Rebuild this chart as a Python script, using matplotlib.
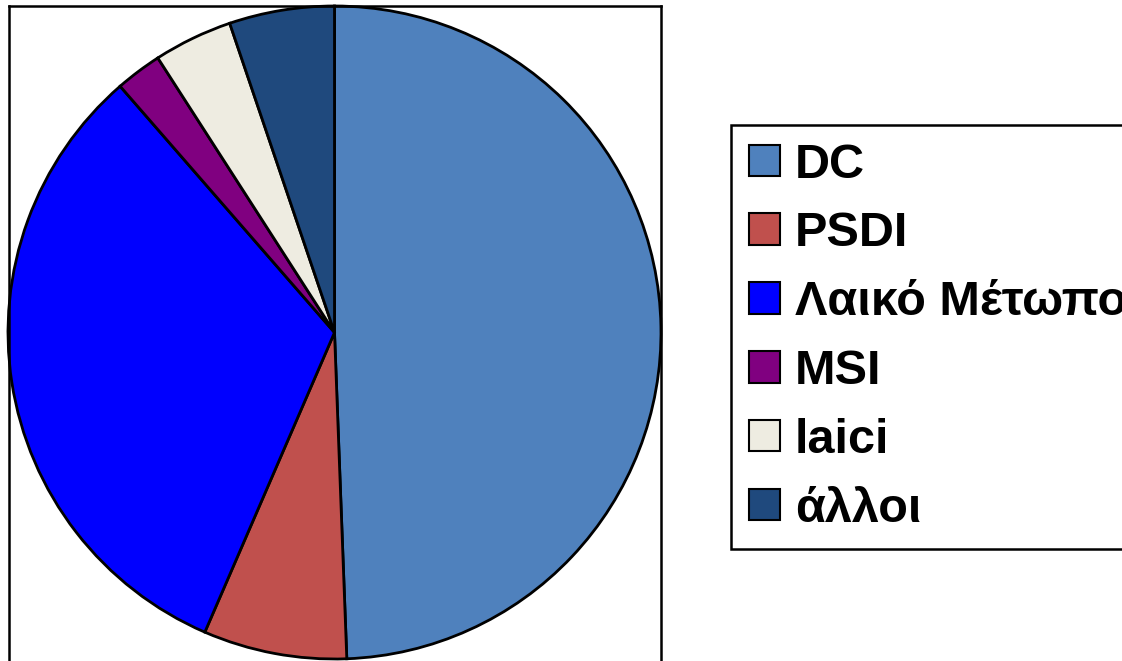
import matplotlib

matplotlib.use("Agg")
import matplotlib.pyplot as plt
from matplotlib.patches import Patch

# shares, clockwise from 12 o'clock
labels = ["DC", "PSDI", "Λαικό Μέτωπο", "MSI", "laici", "άλλοι"]
shares = [49.4, 7.1, 32.1, 2.3, 3.9, 5.2]
colors = ["#4F81BD", "#C0504D", "#0000FF", "#800080", "#EEECE1", "#1F497D"]

W, H = 1122, 661
plt.rcParams["font.family"] = ["Liberation Sans", "DejaVu Sans"]
plt.rcParams["font.weight"] = "bold"

fig = plt.figure(figsize=(W / 100, H / 100), dpi=100)
fig.patch.set_facecolor("white")

# plot area, in pixel units so the pie stays round
x0, x1, y0, y1 = 9, 661, -60, 655
ax = fig.add_axes([x0 / W, y0 / H, (x1 - x0) / W, (y1 - y0) / H])
ax.pie(
    shares,
    colors=colors,
    startangle=90,
    counterclock=False,
    center=(334.5, H - 332.5),
    radius=326.5,
    frame=True,
    wedgeprops=dict(edgecolor="black", linewidth=2.0),
)
ax.set_xlim(x0, x1)
ax.set_ylim(y0, y1)
ax.set_aspect("auto")
ax.set_xticks([])
ax.set_yticks([])
for s in ax.spines.values():
    s.set_linewidth(1.8)
    s.set_color("black")

handles = [Patch(facecolor=c, edgecolor="black", linewidth=1.5) for c in colors]
leg = fig.legend(
    handles,
    labels,
    loc="upper left",
    bbox_to_anchor=(731 / W, 1 - 125 / H),
    frameon=True,
    fancybox=False,
    framealpha=1,
    edgecolor="black",
    fontsize=35,
    handlelength=0.64,
    handleheight=0.62,
    handletextpad=0.31,
    borderpad=0.36,
    labelspacing=0.49,
    borderaxespad=0,
)
leg.get_frame().set_linewidth(1.8)
for t in leg.get_texts():
    t.set_fontweight("bold")

fig.savefig("out.png", dpi=100)
plt.close(fig)
